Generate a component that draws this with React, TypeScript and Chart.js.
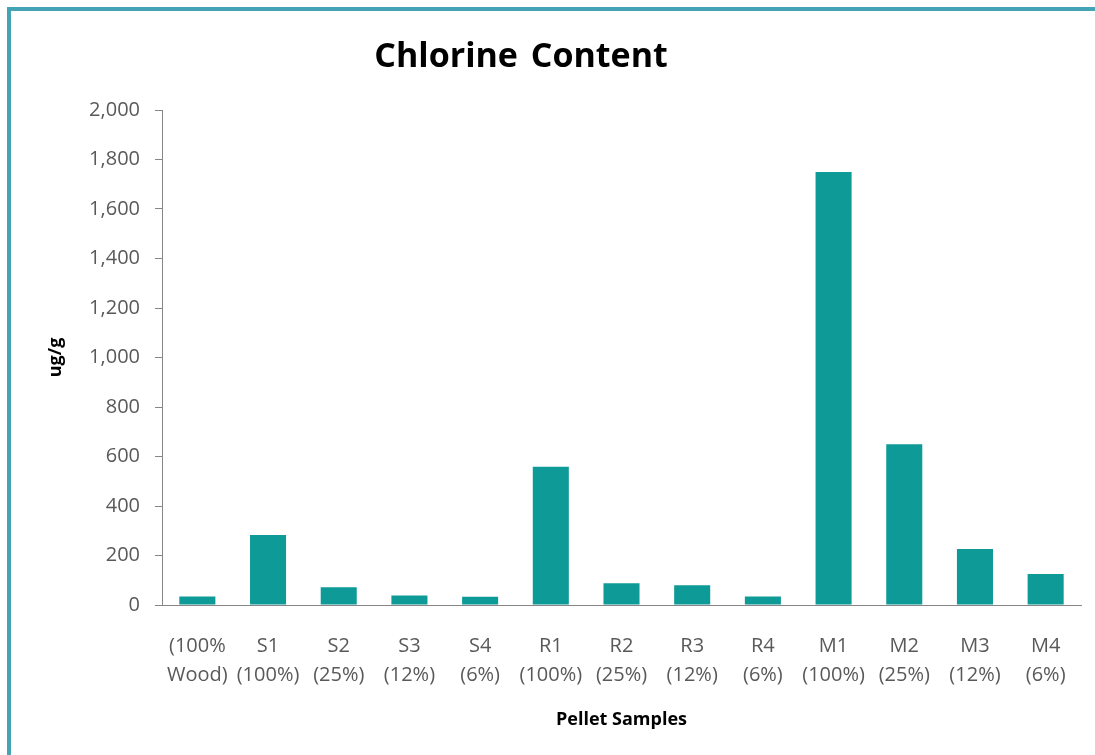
import React, { useEffect, useRef } from "react";
import { Chart, registerables } from "chart.js";

Chart.register(...registerables);

const titleText = "Chlorine Content";
const yAxisTitle = "ug/g";
const xAxisTitle = "Pellet Samples";

const categoryLabels: string[][] = [
  ["(100%", "Wood)"],
  ["S1", "(100%)"],
  ["S2", "(25%)"],
  ["S3", "(12%)"],
  ["S4", "(6%)"],
  ["R1", "(100%)"],
  ["R2", "(25%)"],
  ["R3", "(12%)"],
  ["R4", "(6%)"],
  ["M1", "(100%)"],
  ["M2", "(25%)"],
  ["M3", "(12%)"],
  ["M4", "(6%)"],
];

const chlorineValues: number[] = [34, 283, 72, 38, 33, 559, 88, 80, 34, 1750, 649, 226, 125];

const yMin = 0;
const yMax = 2000;
const yStep = 200;

const barColor = "#0e9a97";
const tickColor = "#595959";
const axisColor = "#868686";

const titlePlugin = {
  id: "customTitle",
  afterDraw(chart: any) {
    const ctx = chart.ctx as CanvasRenderingContext2D;
    ctx.save();
    ctx.font = "bold 34px 'Open Sans'";
    (ctx as any).wordSpacing = "4px";
    ctx.fillStyle = "#000000";
    ctx.textAlign = "center";
    ctx.textBaseline = "alphabetic";
    ctx.fillText(titleText, chart.width * 0.4705, 56);
    ctx.restore();
  },
};

export default function App() {
  const canvasRef = useRef<HTMLCanvasElement | null>(null);

  useEffect(() => {
    if (!canvasRef.current) return;
    const chart = new Chart(canvasRef.current, {
      type: "bar",
      data: {
        labels: categoryLabels,
        datasets: [
          {
            label: "Chlorine",
            data: chlorineValues,
            backgroundColor: barColor,
            borderWidth: 0,
            categoryPercentage: 1,
            barPercentage: 0.51,
          },
        ],
      },
      options: {
        animation: false,
        responsive: false,
        maintainAspectRatio: false,
        layout: { padding: { left: 0, right: 14, top: 99, bottom: 0 } },
        plugins: {
          legend: { display: false },
          title: { display: false },
          tooltip: { enabled: false },
        },
        scales: {
          x: {
            offset: true,
            grid: { display: false },
            border: { display: true, color: axisColor, width: 1 },
            ticks: {
              color: tickColor,
              font: { family: "'Open Sans'", size: 20, lineHeight: 1.45 },
              padding: 19,
              maxRotation: 0,
              minRotation: 0,
              autoSkip: false,
            },
            title: {
              display: true,
              text: xAxisTitle,
              color: "#000000",
              font: { family: "'Open Sans'", size: 18, weight: "bold", lineHeight: 1.2 },
              padding: { top: 0, bottom: 24 },
            },
            afterFit: (scale: any) => {
              scale.height = 150;
            },
          },
          y: {
            min: yMin,
            max: yMax,
            grid: {
              display: true,
              drawOnChartArea: false,
              drawTicks: true,
              tickLength: 7,
              color: axisColor,
            },
            border: { display: true, color: axisColor, width: 1 },
            ticks: {
              stepSize: yStep,
              color: tickColor,
              font: { family: "'Open Sans'", size: 20 },
              padding: 15,
              callback: (v: any) => Number(v).toLocaleString("en-US"),
            },
            title: {
              display: true,
              text: yAxisTitle,
              color: "#000000",
              font: { family: "'Open Sans'", size: 18, weight: "bold", lineHeight: 1.2 },
              padding: { top: 34, bottom: 0 },
            },
            afterFit: (scale: any) => {
              scale.width = 151;
            },
          },
        },
      },
      plugins: [titlePlugin],
    });
    return () => chart.destroy();
  }, []);

  return (
    <div
      style={{
        position: "fixed",
        left: 7,
        top: 7,
        width: 1088,
        height: 748,
        boxSizing: "border-box",
        borderTop: "4px solid #45a3b6",
        borderLeft: "4px solid #45a3b6",
        background: "#ffffff",
      }}
    >
      <canvas ref={canvasRef} width={1084} height={744} style={{ display: "block", width: 1084, height: 744 }} />
    </div>
  );
}
